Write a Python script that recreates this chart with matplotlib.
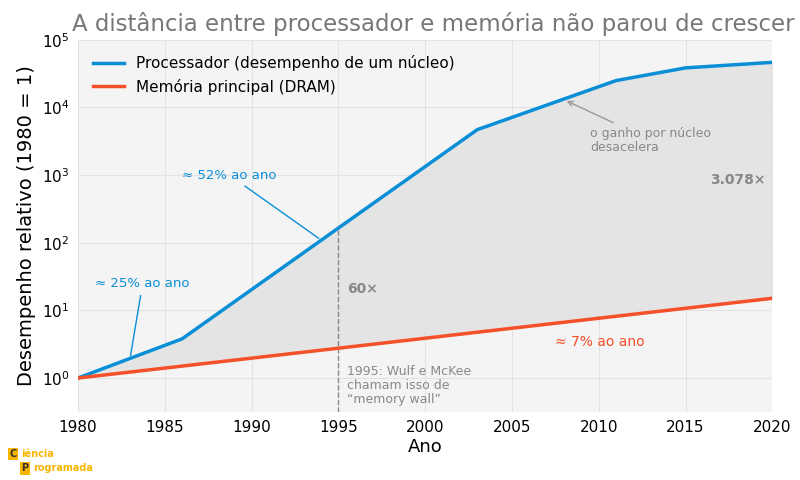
import matplotlib.pyplot as plt
import numpy as np

cpu_years = [1980, 1983, 1986, 1995, 2003, 2011, 2015, 2020]
cpu_perf = [1.0, 1.95, 3.8, 165, 4700, 25000, 38500, 46500]
dram_years = [1980, 1995, 2020]
dram_perf = [1.0, 2.76, 15.1]

blue = '#0a8fd6'
red = '#f4502a'

fig = plt.figure(figsize=(8, 4.8), dpi=100)
ax = fig.add_axes([0.0975, 0.142, 0.868, 0.775])
ax.set_facecolor('#f4f4f4')

ax.set_yscale('log')
ax.set_xlim(1980, 2020)
ax.set_ylim(10 ** -0.5, 1e5)

yy = np.arange(1980, 2021)
cpu_i = 10 ** np.interp(yy, cpu_years, np.log10(cpu_perf))
dram_i = 10 ** np.interp(yy, dram_years, np.log10(dram_perf))
ax.fill_between(yy, dram_i, cpu_i, color='#e4e4e4', zorder=1)

ax.plot(cpu_years, cpu_perf, color=blue, lw=2.5, label='Processador (desempenho de um núcleo)', zorder=3)
ax.plot(dram_years, dram_perf, color=red, lw=2.5, label='Memória principal (DRAM)', zorder=3)

ax.grid(True, color='#e2e2e2', lw=0.8, zorder=0)
for s in ax.spines.values():
    s.set_visible(False)
ax.tick_params(which='both', length=0, labelsize=11, pad=6)
ax.minorticks_off()
ax.set_xticks([1980, 1985, 1990, 1995, 2000, 2005, 2010, 2015, 2020])

ax.set_xlabel('Ano', fontsize=13, labelpad=2)
ax.set_ylabel('Desempenho relativo (1980 = 1)', fontsize=14)
fig.text(0.542, 0.95, 'A distância entre processador e memória não parou de crescer', fontsize=16.5,
         color='#777777', ha='center', va='center')

leg = ax.legend(loc='upper left', frameon=False, fontsize=11, handlelength=2, borderaxespad=0.6)

# vertical markers
ax.plot([1995, 1995], [10 ** -0.5, 165], ls='--', color='#888888', lw=1, zorder=2)
ax.plot([2020, 2020], [15.1, 46500], ls='--', color='#bbbbbb', lw=1, zorder=2)
ax.text(1995.5, 21, '60×', fontsize=10, fontweight='bold', color='#888888', va='center')
ax.text(2019.6, 850, '3.078×', fontsize=10, fontweight='bold', color='#888888', va='center', ha='right')
ax.text(1995.5, 1.55, '1995: Wulf e McKee\nchamam isso de\n“memory wall”', fontsize=9, color='#888888', va='top', linespacing=1.1)

ax.annotate('≈ 25% ao ano', xy=(1983, 1.95), xytext=(1981, 25), fontsize=9.5, color=blue,
            arrowprops=dict(arrowstyle='-', color=blue, lw=1), va='center')
ax.annotate('≈ 52% ao ano', xy=(1994, 110), xytext=(1986, 1000), fontsize=9.5, color=blue,
            arrowprops=dict(arrowstyle='-', color=blue, lw=1), va='center')
ax.annotate('o ganho por núcleo\ndesacelera', xy=(2008, 13000), xytext=(2009.5, 3300), fontsize=9, color='#888888',
            arrowprops=dict(arrowstyle='->', color='#999999', lw=1), va='center', linespacing=1.1)
ax.text(2007.5, 3.4, '≈ 7% ao ano', fontsize=10, color=red, va='center')

# logo
fig.text(0.012, 0.048, 'C', fontsize=7, fontweight='bold', color='#333333',
         bbox=dict(boxstyle='square,pad=0.15', fc='#f7b500', ec='none'))
fig.text(0.027, 0.048, 'iência', fontsize=7, fontweight='bold', color='#f7b500')
fig.text(0.027, 0.018, 'P', fontsize=7, fontweight='bold', color='#333333',
         bbox=dict(boxstyle='square,pad=0.15', fc='#f7b500', ec='none'))
fig.text(0.042, 0.018, 'rogramada', fontsize=7, fontweight='bold', color='#f7b500')

fig.savefig('out.png', dpi=100)
